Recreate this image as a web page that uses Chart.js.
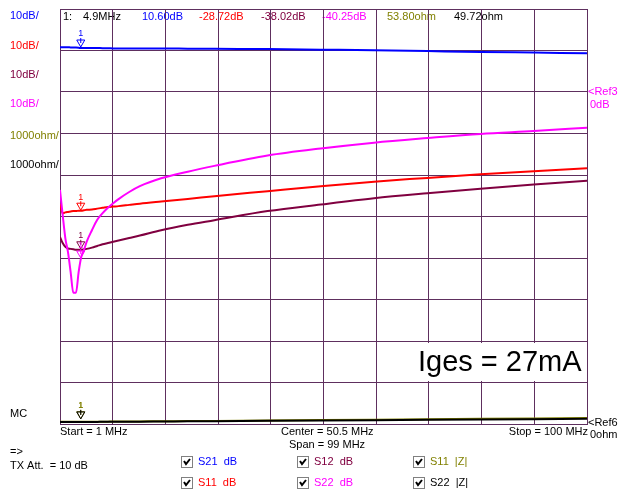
<!DOCTYPE html>
<html>
<head>
<meta charset="utf-8">
<script src="https://cdn.jsdelivr.net/npm/chart.js@4.4.1/dist/chart.umd.min.js"></script>
<style>
  body { margin: 0; background: #fff; }
  #chart { display: block; }
</style>
</head>
<body>
<canvas id="chart" width="619" height="497"></canvas>
<script>
// sweep points, MHz
const freqs = [1, 1.5, 2, 2.5, 3, 3.5, 4, 4.5, 5, 5.5, 6, 7, 8, 9, 10, 11, 12, 14, 16, 20, 25, 30, 40, 50, 60, 70, 80, 90, 100];

// dB traces
const s21dB = [10.8, 10.8, 10.8, 10.8, 10.75, 10.75, 10.7, 10.65, 10.6, 10.6, 10.6, 10.6, 10.6, 10.55, 10.55, 10.5, 10.5, 10.5, 10.5, 10.5, 10.45, 10.4, 10.35, 10.2, 10.05, 9.85, 9.65, 9.5, 9.35];
const s11dB = [-27.0, -29.2, -29.0, -28.9, -28.8, -28.7, -28.7, -28.6, -28.6, -28.5, -28.4, -28.3, -28.1, -27.9, -27.7, -27.6, -27.5, -27.2, -26.9, -26.4, -25.8, -25.1, -23.9, -22.7, -21.6, -20.7, -19.8, -19.1, -18.4];
const s12dB = [-34.9, -36.4, -37.3, -37.7, -37.8, -37.9, -38.0, -38.0, -38.0, -37.9, -37.8, -37.5, -37.1, -36.7, -36.4, -36.1, -35.8, -35.2, -34.6, -33.3, -32.0, -30.9, -28.7, -27.1, -25.6, -24.4, -23.3, -22.3, -21.4];
const s22dB = [-23.6, -29.6, -35.2, -38.6, -43.4, -48.4, -48.4, -43.4, -39.7, -38.1, -36.1, -33.3, -30.8, -29.2, -27.9, -26.8, -25.8, -24.1, -22.7, -20.8, -19.2, -17.8, -15.3, -13.6, -12.2, -11.1, -10.1, -9.4, -8.6];

// impedance traces, ohm
const s11Z = [55, 54, 54, 54, 54, 54, 54, 54, 54, 54, 55, 55, 56, 56, 57, 58, 58, 60, 62, 66, 70, 75, 85, 95, 105, 115, 125, 135, 145];
const s22Z = [50, 50, 50, 50, 50, 50, 50, 50, 50, 50, 50, 51, 51, 52, 52, 53, 53, 55, 57, 60, 64, 68, 76, 84, 92, 100, 108, 116, 124];

// marker 1 readout
const markerFreq = 4.9;
const markerDB = [10.60, -28.72, -38.02, -40.25];
const markerZ = [53.80, 49.72];

const BLUE = '#0000ff', RED = '#ff0000', MAROON = '#800040', MAGENTA = '#ff00ff', OLIVE = '#808000', BLACK = '#000000';
const GRID = '#5e2f5e';
const FONT = '11px "Liberation Sans", Arial, sans-serif';

function pts(ys) {
  return freqs.map((f, i) => ({ x: f, y: ys[i] }));
}

function line(label, ys, color, axis, order) {
  return {
    label: label,
    data: pts(ys),
    borderColor: color,
    borderWidth: 2,
    pointRadius: 0,
    cubicInterpolationMode: 'monotone',
    yAxisID: axis,
    order: order
  };
}

function text(ctx, s, x, y, color, align) {
  ctx.fillStyle = color;
  ctx.textAlign = align || 'left';
  ctx.fillText(s, x, y);
}

function drawMarker(ctx, x, y, color, labelColor) {
  ctx.save();
  ctx.strokeStyle = color;
  ctx.lineWidth = 1;
  ctx.beginPath();
  ctx.moveTo(x - 4, y - 8);
  ctx.lineTo(x + 4, y - 8);
  ctx.lineTo(x, y - 1);
  ctx.closePath();
  ctx.moveTo(x, y - 10);
  ctx.lineTo(x, y - 5);
  ctx.stroke();
  ctx.font = '9px "Liberation Sans", Arial, sans-serif';
  ctx.textBaseline = 'middle';
  text(ctx, '1', x, y - 14, labelColor || color, 'center');
  ctx.restore();
}

function checkbox(ctx, x, y) {
  ctx.save();
  ctx.fillStyle = '#ffffff';
  ctx.fillRect(x, y - 6, 12, 12);
  ctx.strokeStyle = '#808080';
  ctx.lineWidth = 1;
  ctx.strokeRect(x + 0.5, y - 5.5, 11, 11);
  ctx.strokeStyle = '#000000';
  ctx.lineWidth = 2;
  ctx.beginPath();
  ctx.moveTo(x + 3, y - 1);
  ctx.lineTo(x + 5, y + 2);
  ctx.lineTo(x + 9, y - 3);
  ctx.stroke();
  ctx.restore();
}

const analyzerText = {
  id: 'analyzerText',
  beforeDraw(chart) {
    const ctx = chart.ctx;
    ctx.save();
    ctx.fillStyle = '#ffffff';
    ctx.fillRect(0, 0, chart.width, chart.height);
    ctx.font = FONT;
    ctx.textBaseline = 'middle';
    // marker header, grid lines are painted over it
    text(ctx, '1:', 63, 17, BLACK);
    text(ctx, '4.9MHz', 83, 17, BLACK);
    text(ctx, '10.60dB', 142, 17, BLUE);
    text(ctx, '-28.72dB', 199, 17, RED);
    text(ctx, '-38.02dB', 261, 17, MAROON);
    text(ctx, '-40.25dB', 322, 17, MAGENTA);
    text(ctx, '53.80ohm', 387, 17, OLIVE);
    text(ctx, '49.72ohm', 454, 17, BLACK);
    ctx.restore();
  },
  afterDraw(chart) {
    const ctx = chart.ctx;
    const xs = chart.scales.x, ys = chart.scales.y, zs = chart.scales.z;
    ctx.save();
    ctx.font = FONT;
    ctx.textBaseline = 'middle';

    // scale labels, left
    text(ctx, '10dB/', 10, 16, BLUE);
    text(ctx, '10dB/', 10, 46, RED);
    text(ctx, '10dB/', 10, 75, MAROON);
    text(ctx, '10dB/', 10, 104, MAGENTA);
    text(ctx, '1000ohm/', 10, 136, OLIVE);
    text(ctx, '1000ohm/', 10, 165, BLACK);

    // reference labels, right
    text(ctx, '<Ref3', 588, ys.getPixelForValue(0), MAGENTA);
    text(ctx, '0dB', 590, ys.getPixelForValue(0) + 13, MAGENTA);
    text(ctx, '<Ref6', 588, zs.getPixelForValue(0) - 1, BLACK);
    text(ctx, '0ohm', 590, zs.getPixelForValue(0) + 11, BLACK);

    // sweep info
    text(ctx, 'MC', 10, 414, BLACK);
    text(ctx, 'Start = 1 MHz', 60, 432, BLACK);
    text(ctx, 'Center = 50.5 MHz', 281, 432, BLACK);
    text(ctx, 'Span = 99 MHz', 289, 445, BLACK);
    text(ctx, 'Stop = 100 MHz', 588, 432, BLACK, 'right');
    text(ctx, '=>', 10, 452, BLACK);
    text(ctx, 'TX Att.  = 10 dB', 10, 466, BLACK);

    // trace selection boxes
    const rows = [462, 483];
    const cols = [181, 297, 413];
    const entries = [
      ['S21  dB', BLUE], ['S12  dB', MAROON], ['S11  |Z|', OLIVE],
      ['S11  dB', RED], ['S22  dB', MAGENTA], ['S22  |Z|', BLACK]
    ];
    entries.forEach((e, i) => {
      const r = rows[Math.floor(i / 3)], c = cols[i % 3];
      checkbox(ctx, c, r);
      text(ctx, e[0], c + 17, r, e[1]);
    });

    // marker 1 on every trace
    const mx = xs.getPixelForValue(markerFreq);
    const dbColors = [BLUE, RED, MAROON, MAGENTA];
    markerDB.forEach((v, i) => drawMarker(ctx, mx, ys.getPixelForValue(v), dbColors[i]));
    drawMarker(ctx, mx, zs.getPixelForValue(markerZ[0]) - 2, OLIVE);
    drawMarker(ctx, mx, zs.getPixelForValue(markerZ[1]) - 2, BLACK, OLIVE);

    // annotation
    ctx.fillStyle = '#ffffff';
    ctx.fillRect(414, 343, 172, 38);
    ctx.font = '29px "Liberation Sans", Arial, sans-serif';
    ctx.textBaseline = 'alphabetic';
    text(ctx, 'Iges = 27mA', 418, 371, BLACK);
    ctx.restore();
  }
};

new Chart(document.getElementById('chart').getContext('2d'), {
  type: 'line',
  data: {
    datasets: [
      line('S21 dB', s21dB, BLUE, 'y', 1),
      line('S22 dB', s22dB, MAGENTA, 'y', 2),
      line('S11 dB', s11dB, RED, 'y', 3),
      line('S12 dB', s12dB, MAROON, 'y', 4),
      line('S22 |Z|', s22Z, BLACK, 'z', 5),
      line('S11 |Z|', s11Z, OLIVE, 'z', 6)
    ]
  },
  options: {
    responsive: false,
    animation: false,
    layout: { padding: { left: 60, right: 32, top: 9, bottom: 73 } },
    plugins: { legend: { display: false }, tooltip: { enabled: false } },
    scales: {
      x: {
        type: 'linear',
        min: 1,
        max: 100,
        afterBuildTicks: s => { s.ticks = Array.from({ length: 11 }, (_, i) => ({ value: 1 + i * 9.9 })); },
        ticks: { display: false },
        grid: { color: GRID, drawTicks: false },
        border: { color: GRID }
      },
      y: {
        min: -80,
        max: 20,
        ticks: { display: false, stepSize: 10 },
        grid: { color: GRID, drawTicks: false },
        border: { color: GRID }
      },
      z: { display: false, min: 0, max: 10000 }
    }
  },
  plugins: [analyzerText]
});
</script>
</body>
</html>
